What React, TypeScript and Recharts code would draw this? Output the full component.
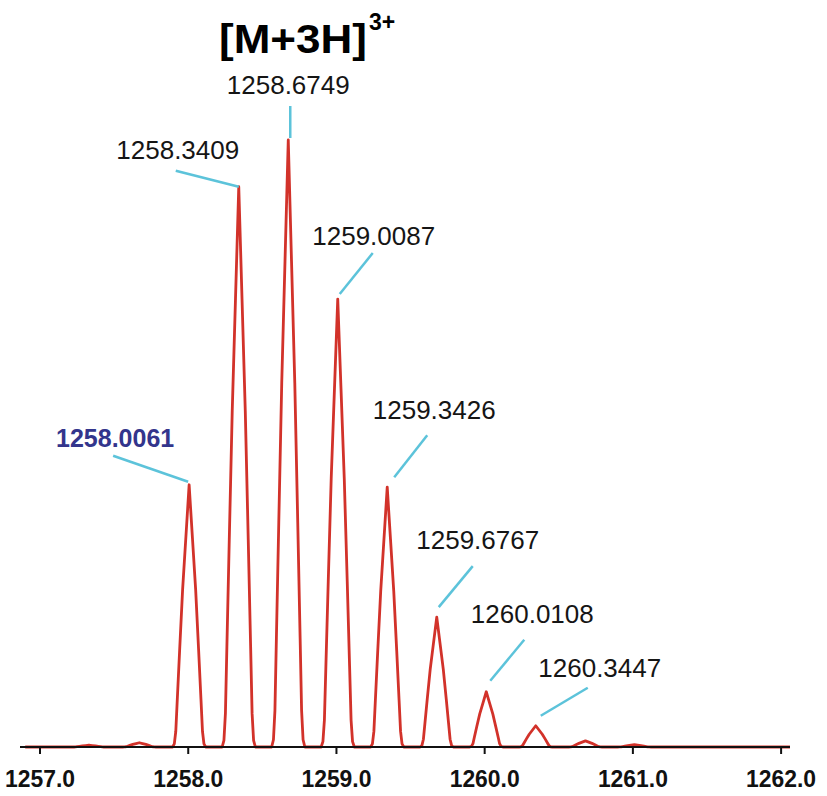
import { ComposedChart, Line, Scatter, XAxis, YAxis } from "recharts";

// isotope cluster, relative intensity (%)
const peakMz = [
  1257.33, 1257.67, 1258.0061, 1258.3409, 1258.6749, 1259.0087, 1259.3426,
  1259.6767, 1260.0108, 1260.3447, 1260.68, 1261.01,
];
const peakIntensity = [0.3, 0.7, 43.2, 92.3, 100, 73.8, 42.8, 21.4, 9.1, 3.5, 1.0, 0.4];
const labelledPeaks = [2, 3, 4, 5, 6, 7, 8, 9];

// profile shape of a single isotope peak (m/z offset, fraction of apex)
const shapeOffset = [
  -0.112, -0.1, -0.09, -0.08, -0.064, -0.044, -0.022, 0,
  0.022, 0.044, 0.064, 0.08, 0.09, 0.1, 0.112,
];
const shapeHeight = [0, 0.012, 0.06, 0.18, 0.37, 0.6, 0.8, 1, 0.8, 0.6, 0.37, 0.18, 0.06, 0.012, 0];

const xTicks = [1257, 1258, 1259, 1260, 1261, 1262];
const mzStart = 1256.9;
const mzEnd = 1262.06;

const profile: { mz: number; intensity: number }[] = [{ mz: mzStart, intensity: 0 }];
peakMz.forEach((mz, i) => {
  shapeOffset.forEach((o, j) => {
    profile.push({ mz: mz + o, intensity: peakIntensity[i] * shapeHeight[j] });
  });
});
profile.push({ mz: mzEnd, intensity: 0 });

const peaks = labelledPeaks.map((i) => ({ mz: peakMz[i], intensity: peakIntensity[i] }));

// label text / leader positions relative to the apex, in px
const placement = [
  { text: [-74, -38], from: [-76, -29], to: [-1, -3], main: true },
  { text: [-61, -28], from: [-63, -16], to: [0, 0] },
  { text: [0, -46], from: [2, -34], to: [2, -2] },
  { text: [36, -54], from: [35, -46], to: [2, -5] },
  { text: [47, -68], from: [40, -52], to: [7, -10] },
  { text: [41, -68], from: [36, -51], to: [2, -10] },
  { text: [46, -69], from: [38, -52], to: [4, -11] },
  { text: [64, -49], from: [52, -38], to: [5, -10] },
];

const FONT = "'Liberation Sans', Arial, sans-serif";

function PeakLabel(props: any) {
  const { cx, cy, payload } = props;
  const idx = peaks.findIndex((p) => p.mz === payload.mz);
  const p = placement[idx];
  if (!p) return null;
  return (
    <g>
      <line
        x1={cx + p.from[0]}
        y1={cy + p.from[1]}
        x2={cx + p.to[0]}
        y2={cy + p.to[1]}
        stroke="#5cc3da"
        strokeWidth={2.5}
      />
      <text
        x={cx + p.text[0]}
        y={cy + p.text[1]}
        textAnchor="middle"
        fontFamily={FONT}
        fontSize={p.main ? 25 : 26}
        fontWeight={p.main ? 700 : 400}
        fill={p.main ? "#33358c" : "#151515"}
      >
        {payload.mz.toFixed(4)}
      </text>
    </g>
  );
}

function MzTick(props: any) {
  const { x, y, payload } = props;
  return (
    <text
      x={x}
      y={y + 31}
      textAnchor="middle"
      fontFamily={FONT}
      fontSize={24.5}
      fontWeight={700}
      fill="#111"
      textLength={70}
      lengthAdjust="spacingAndGlyphs"
    >
      {payload.value.toFixed(1)}
    </text>
  );
}

export default function App() {
  return (
    <div style={{ position: "absolute", left: 0, top: 0, width: 827, height: 796, background: "#fff" }}>
      <ComposedChart width={827} height={796} margin={{ top: 140, right: 37, bottom: 9, left: 20 }}>
        <XAxis
          type="number"
          dataKey="mz"
          domain={[1256.865, mzEnd]}
          ticks={xTicks}
          height={40}
          tickSize={7}
          tickMargin={2}
          axisLine={{ stroke: "#111", strokeWidth: 2 }}
          tickLine={{ stroke: "#111", strokeWidth: 2 }}
          tick={<MzTick />}
          allowDataOverflow
        />
        <YAxis type="number" dataKey="intensity" domain={[0, 100]} hide />
        <Line
          data={profile}
          dataKey="intensity"
          type="linear"
          stroke="#d2322a"
          strokeWidth={2.8}
          strokeLinejoin="round"
          dot={false}
          isAnimationActive={false}
        />
        <Scatter data={peaks} dataKey="intensity" shape={(p: any) => <PeakLabel {...p} />} isAnimationActive={false} />
      </ComposedChart>
      <svg width={827} height={80} style={{ position: "absolute", left: 0, top: 0 }}>
        <text x={219} y={53} fontFamily={FONT} fontWeight={700} fontSize={40} fill="#000" textLength={148} lengthAdjust="spacingAndGlyphs">
          [M+3H]
        </text>
        <text x={369} y={30} fontFamily={FONT} fontWeight={700} fontSize={23} fill="#000">
          3+
        </text>
      </svg>
    </div>
  );
}
